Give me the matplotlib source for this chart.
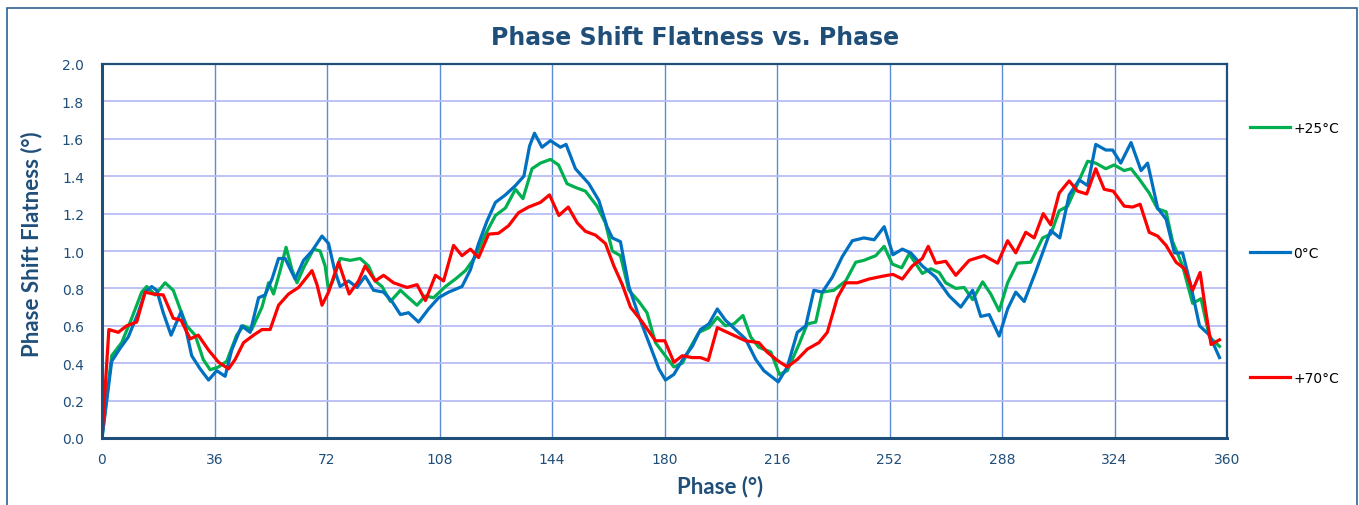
import matplotlib
matplotlib.use("Agg")
import matplotlib.pyplot as plt
from matplotlib.patches import Rectangle

# Data

phase_0c = [0, 3.1, 5.8, 8.4, 11.6, 13.8, 15.9, 17.5, 19.6, 22.1, 23.9, 25.3, 26.6, 28.7, 31.4,
            34.1, 36.7, 39.4, 41.5, 44.7, 47.4, 50.1, 52.2, 54.4, 56.5, 58.6, 61.8, 64.5, 67.2,
            70.4, 72.5, 74.4, 76.2, 78.9, 81.6, 84.2, 86.9, 90.1, 92.8, 95.5, 98.1, 101.3, 104.5,
            107.7, 110.9, 115.2, 117.9, 120.5, 123.2, 125.9, 129.1, 132.3, 135.0, 136.8, 138.4,
            140.8, 143.5, 146.7, 148.5, 151.5, 155.8, 159.0, 161.6, 163.3, 165.9, 168.6, 171.8,
            175.0, 178.2, 180.3, 183.0, 186.2, 188.9, 191.5, 194.2, 196.9, 199.5, 202.7, 205.9,
            209.2, 211.8, 216.4, 219.3, 222.5, 225.2, 227.8, 230.5, 233.7, 236.9, 240.1, 243.8,
            247.1, 250.3, 253.1, 256.1, 258.8, 262.5, 266.8, 271.1, 274.8, 278.6, 281.2, 283.9,
            287.1, 289.8, 292.4, 295.1, 298.8, 303.6, 306.5, 309.5, 312.7, 315.4, 318.0, 321.2,
            323.4, 326.0, 329.3, 332.5, 334.6, 337.8, 340.5, 343.2, 345.8, 348.5, 351.2, 354.4,
            357.6]
flat_0c = [0, 0.41, 0.48, 0.54, 0.67, 0.78, 0.81, 0.79, 0.67, 0.55, 0.62, 0.675, 0.60, 0.44, 0.37,
           0.31, 0.36, 0.33, 0.47, 0.60, 0.565, 0.75, 0.765, 0.85, 0.96, 0.96, 0.85, 0.95, 1.00,
           1.08, 1.04, 0.90, 0.81, 0.84, 0.805, 0.865, 0.79, 0.78, 0.73, 0.66, 0.67, 0.62, 0.69,
           0.75, 0.78, 0.81, 0.90, 1.04, 1.16, 1.26, 1.30, 1.35, 1.40, 1.56, 1.63,
           1.555, 1.59, 1.555, 1.57, 1.44, 1.36, 1.27, 1.13, 1.07, 1.05, 0.81, 0.65,
           0.51, 0.37, 0.31, 0.34, 0.43, 0.49, 0.58, 0.61, 0.69, 0.63, 0.58, 0.53,
           0.42, 0.36, 0.30, 0.38, 0.565, 0.60, 0.79, 0.78, 0.86, 0.97, 1.055, 1.07,
           1.06, 1.13, 0.98, 1.01, 0.99, 0.92, 0.86, 0.76, 0.70, 0.79, 0.65, 0.66,
           0.545, 0.69, 0.78, 0.73, 0.89, 1.11, 1.07, 1.30, 1.38, 1.35, 1.57, 1.54,
           1.54, 1.47, 1.58, 1.43, 1.47, 1.23, 1.17, 0.99, 0.99, 0.81, 0.60, 0.55,
           0.43]

phase_25c = [0, 3.1, 6.3, 9.5, 12.7, 14.3, 17.0, 20.2, 22.8, 25.0, 27.1, 29.8, 32.4, 34.6, 37.3,
             39.9, 43.1, 45.3, 47.9, 51.2, 53.3, 54.9, 57.0, 58.9, 60.8, 62.4, 64.5, 67.7, 69.8,
             71.4, 72.5, 74.1, 76.2, 79.4, 82.6, 85.3, 87.4, 89.6, 92.3, 95.5, 98.1, 100.8, 103.5,
             106.1, 109.9, 113.1, 116.3, 119.5, 122.7, 125.9, 129.1, 132.3, 134.7, 137.6, 140.3,
             143.5, 146.1, 148.8, 151.5, 154.7, 158.4, 161.1, 163.3, 165.9, 168.6, 171.8, 174.4,
             177.1, 179.8, 183.0, 185.7, 188.3, 191.0, 194.2, 196.9, 199.5, 202.2, 205.1, 207.6,
             210.2, 214.0, 216.8, 219.3, 223.0, 225.7, 228.4, 230.5, 234.2, 238.0, 241.2, 243.8,
             247.6, 250.3, 252.9, 255.9, 258.3, 262.5, 265.2, 267.9, 270.0, 273.2, 275.9, 278.6,
             281.8, 284.4, 287.1, 289.8, 292.9, 297.2, 301.0, 303.6, 306.3, 309.0, 312.2, 315.4,
             318.0, 321.2, 323.9, 327.1, 329.3, 331.9, 335.1, 337.8, 340.5, 342.6, 345.8, 349.0,
             351.7, 354.4, 357.6]
flat_25c = [0, 0.44, 0.51, 0.64, 0.78, 0.81, 0.765, 0.83, 0.79, 0.69, 0.60, 0.55, 0.42, 0.365, 0.38,
            0.41, 0.55, 0.60, 0.58, 0.70, 0.83, 0.77, 0.895, 1.02, 0.90, 0.83, 0.91, 1.01, 1.00,
            0.92, 0.79, 0.85, 0.96, 0.95, 0.96, 0.92, 0.84, 0.81, 0.73, 0.79, 0.75, 0.71, 0.76,
            0.75, 0.81, 0.85, 0.895, 0.97, 1.09, 1.19, 1.23, 1.33, 1.28, 1.44, 1.47,
            1.49, 1.46, 1.36, 1.34, 1.32, 1.24, 1.15, 1.00, 0.975, 0.79, 0.73, 0.67,
            0.51, 0.45, 0.38, 0.40, 0.485, 0.565, 0.59, 0.645, 0.60, 0.61, 0.655, 0.54,
            0.485, 0.46, 0.34, 0.36, 0.50, 0.61, 0.62, 0.78, 0.79, 0.84, 0.94, 0.95,
            0.975, 1.025, 0.93, 0.91, 0.985, 0.88, 0.905, 0.885, 0.83, 0.80, 0.805, 0.74,
            0.835, 0.77, 0.68, 0.83, 0.935, 0.94, 1.07, 1.09, 1.215, 1.24, 1.36, 1.48,
            1.47, 1.44, 1.46, 1.43, 1.44, 1.385, 1.31, 1.225, 1.21, 1.05, 0.92, 0.72,
            0.745, 0.54, 0.49]

phase_70c = [0, 2.2, 5.2, 7.9, 11.1, 13.8, 16.4, 19.6, 22.8, 25.3, 28.2, 30.8, 34.1, 37.3, 40.5,
             42.6, 45.3, 48.5, 51.2, 53.8, 56.5, 59.7, 62.9, 67.2, 68.8, 70.4, 72.5, 75.7, 79.1,
             82.1, 84.2, 87.4, 90.1, 93.3, 97.6, 100.8, 103.5, 106.7, 109.3, 112.5, 115.2, 117.9,
             120.5, 123.7, 126.9, 130.1, 133.3, 136.5, 140.3, 143.2, 146.2, 149.2, 152.1, 154.7,
             157.9, 161.1, 163.8, 166.5, 169.1, 172.9, 177.1, 180.1, 183.0, 185.7, 188.9, 191.5,
             194.0, 196.9, 200.1, 202.7, 205.9, 210.2, 212.8, 216.1, 219.3, 222.5, 225.7, 229.4,
             232.1, 235.3, 238.0, 241.7, 245.4, 249.7, 253.1, 256.1, 259.3, 262.5, 264.4, 266.8,
             270.0, 273.2, 277.5, 282.3, 286.6, 289.8, 292.4, 295.6, 298.3, 301.2, 303.6, 306.3,
             309.5, 312.2, 315.1, 318.0, 320.7, 323.6, 327.1, 329.8, 332.2, 335.1, 337.8, 340.5,
             343.7, 346.4, 349.0, 351.4, 353.1, 354.9, 357.6]
flat_70c = [0, 0.58, 0.565, 0.60, 0.62, 0.78, 0.77, 0.765, 0.64, 0.63, 0.53, 0.55, 0.47, 0.405, 0.37,
            0.42, 0.51, 0.55, 0.58, 0.58, 0.71, 0.77, 0.805, 0.895, 0.82, 0.71, 0.78, 0.94, 0.77,
            0.84, 0.92, 0.84, 0.87, 0.83, 0.805, 0.82, 0.735, 0.87, 0.84, 1.03, 0.975, 1.01,
            0.965, 1.09, 1.095, 1.135, 1.205, 1.235, 1.26, 1.30, 1.19, 1.235, 1.15, 1.105,
            1.085, 1.04, 0.92, 0.82, 0.70, 0.62, 0.52, 0.52, 0.405, 0.44, 0.43, 0.43,
            0.415, 0.59, 0.565, 0.545, 0.52, 0.51, 0.46, 0.415, 0.38, 0.42, 0.475, 0.51,
            0.565, 0.75, 0.83, 0.83, 0.85, 0.865, 0.875, 0.85, 0.92, 0.96, 1.025, 0.935,
            0.945, 0.87, 0.95, 0.975, 0.935, 1.055, 0.99, 1.10, 1.07, 1.20, 1.14, 1.31,
            1.375, 1.32, 1.305, 1.44, 1.33, 1.32, 1.24, 1.235, 1.25, 1.10, 1.08, 1.03,
            0.94, 0.905, 0.79, 0.885, 0.69, 0.50, 0.525]

x_ticks = [0, 36, 72, 108, 144, 180, 216, 252, 288, 324, 360]
y_ticks = [0.0, 0.2, 0.4, 0.6, 0.8, 1.0, 1.2, 1.4, 1.6, 1.8, 2.0]

navy = "#1F4E79"

fig = plt.figure(figsize=(13.59, 5.06), dpi=100)
ax = fig.add_axes([102 / 1359, 1 - 439 / 506, 1125 / 1359, 374 / 506])

# outer chart frame
fig.patches.append(Rectangle((7 / 1359, -0.1), 1350 / 1359, 1.1 - 9 / 506,
                             transform=fig.transFigure, fill=False,
                             edgecolor="#2F6190", linewidth=1.2))

g, = ax.plot(phase_25c, flat_25c, color="#00B050", linewidth=2.3, solid_joinstyle="round")
b, = ax.plot(phase_0c, flat_0c, color="#0070C0", linewidth=2.3, solid_joinstyle="round")
r, = ax.plot(phase_70c, flat_70c, color="#FF0000", linewidth=2.3, solid_joinstyle="round")

ax.set_xlim(0, 360)
ax.set_ylim(0, 2)
ax.set_xticks(x_ticks)
ax.set_yticks(y_ticks)
ax.set_yticklabels([f"{v:.1f}" for v in y_ticks])
ax.set_axisbelow(True)
ax.xaxis.grid(True, color="#5B8BD6", linewidth=1.0)
ax.yaxis.grid(True, color="#B8BCF5", linewidth=1.3)
ax.tick_params(axis="both", length=0, labelsize=10, labelcolor=navy)
ax.tick_params(axis="y", pad=13)
ax.tick_params(axis="x", pad=10)
for s in ax.spines.values():
    s.set_color(navy)
    s.set_linewidth(1.6)
ax.spines["left"].set_linewidth(2.2)
ax.spines["bottom"].set_linewidth(2.2)

fig.text(695 / 1359, 1 - 38 / 506, "Phase Shift Flatness vs. Phase", ha="center", va="center",
         fontsize=17, fontweight="bold", color=navy, family="DejaVu Sans")
fig.text(720 / 1359, 1 - 487 / 506, "Phase (°)", ha="center", va="center",
         fontsize=16, fontweight="bold", color=navy, family=["Lato", "DejaVu Sans"])
fig.text(32 / 1359, 1 - 244 / 506, "Phase Shift Flatness (°)", ha="center", va="center",
         rotation=90, fontsize=16, fontweight="bold", color=navy, family=["Lato", "DejaVu Sans"])

fig.legend([g, b, r], ["+25°C", "0°C", "+70°C"], loc="center left",
           bbox_to_anchor=(1250 / 1359, 1 - 254 / 506), frameon=False,
           borderpad=0, borderaxespad=0, handlelength=2.9, handletextpad=0.2,
           labelspacing=8.0, fontsize=10)

fig.savefig("out.png", dpi=100)
